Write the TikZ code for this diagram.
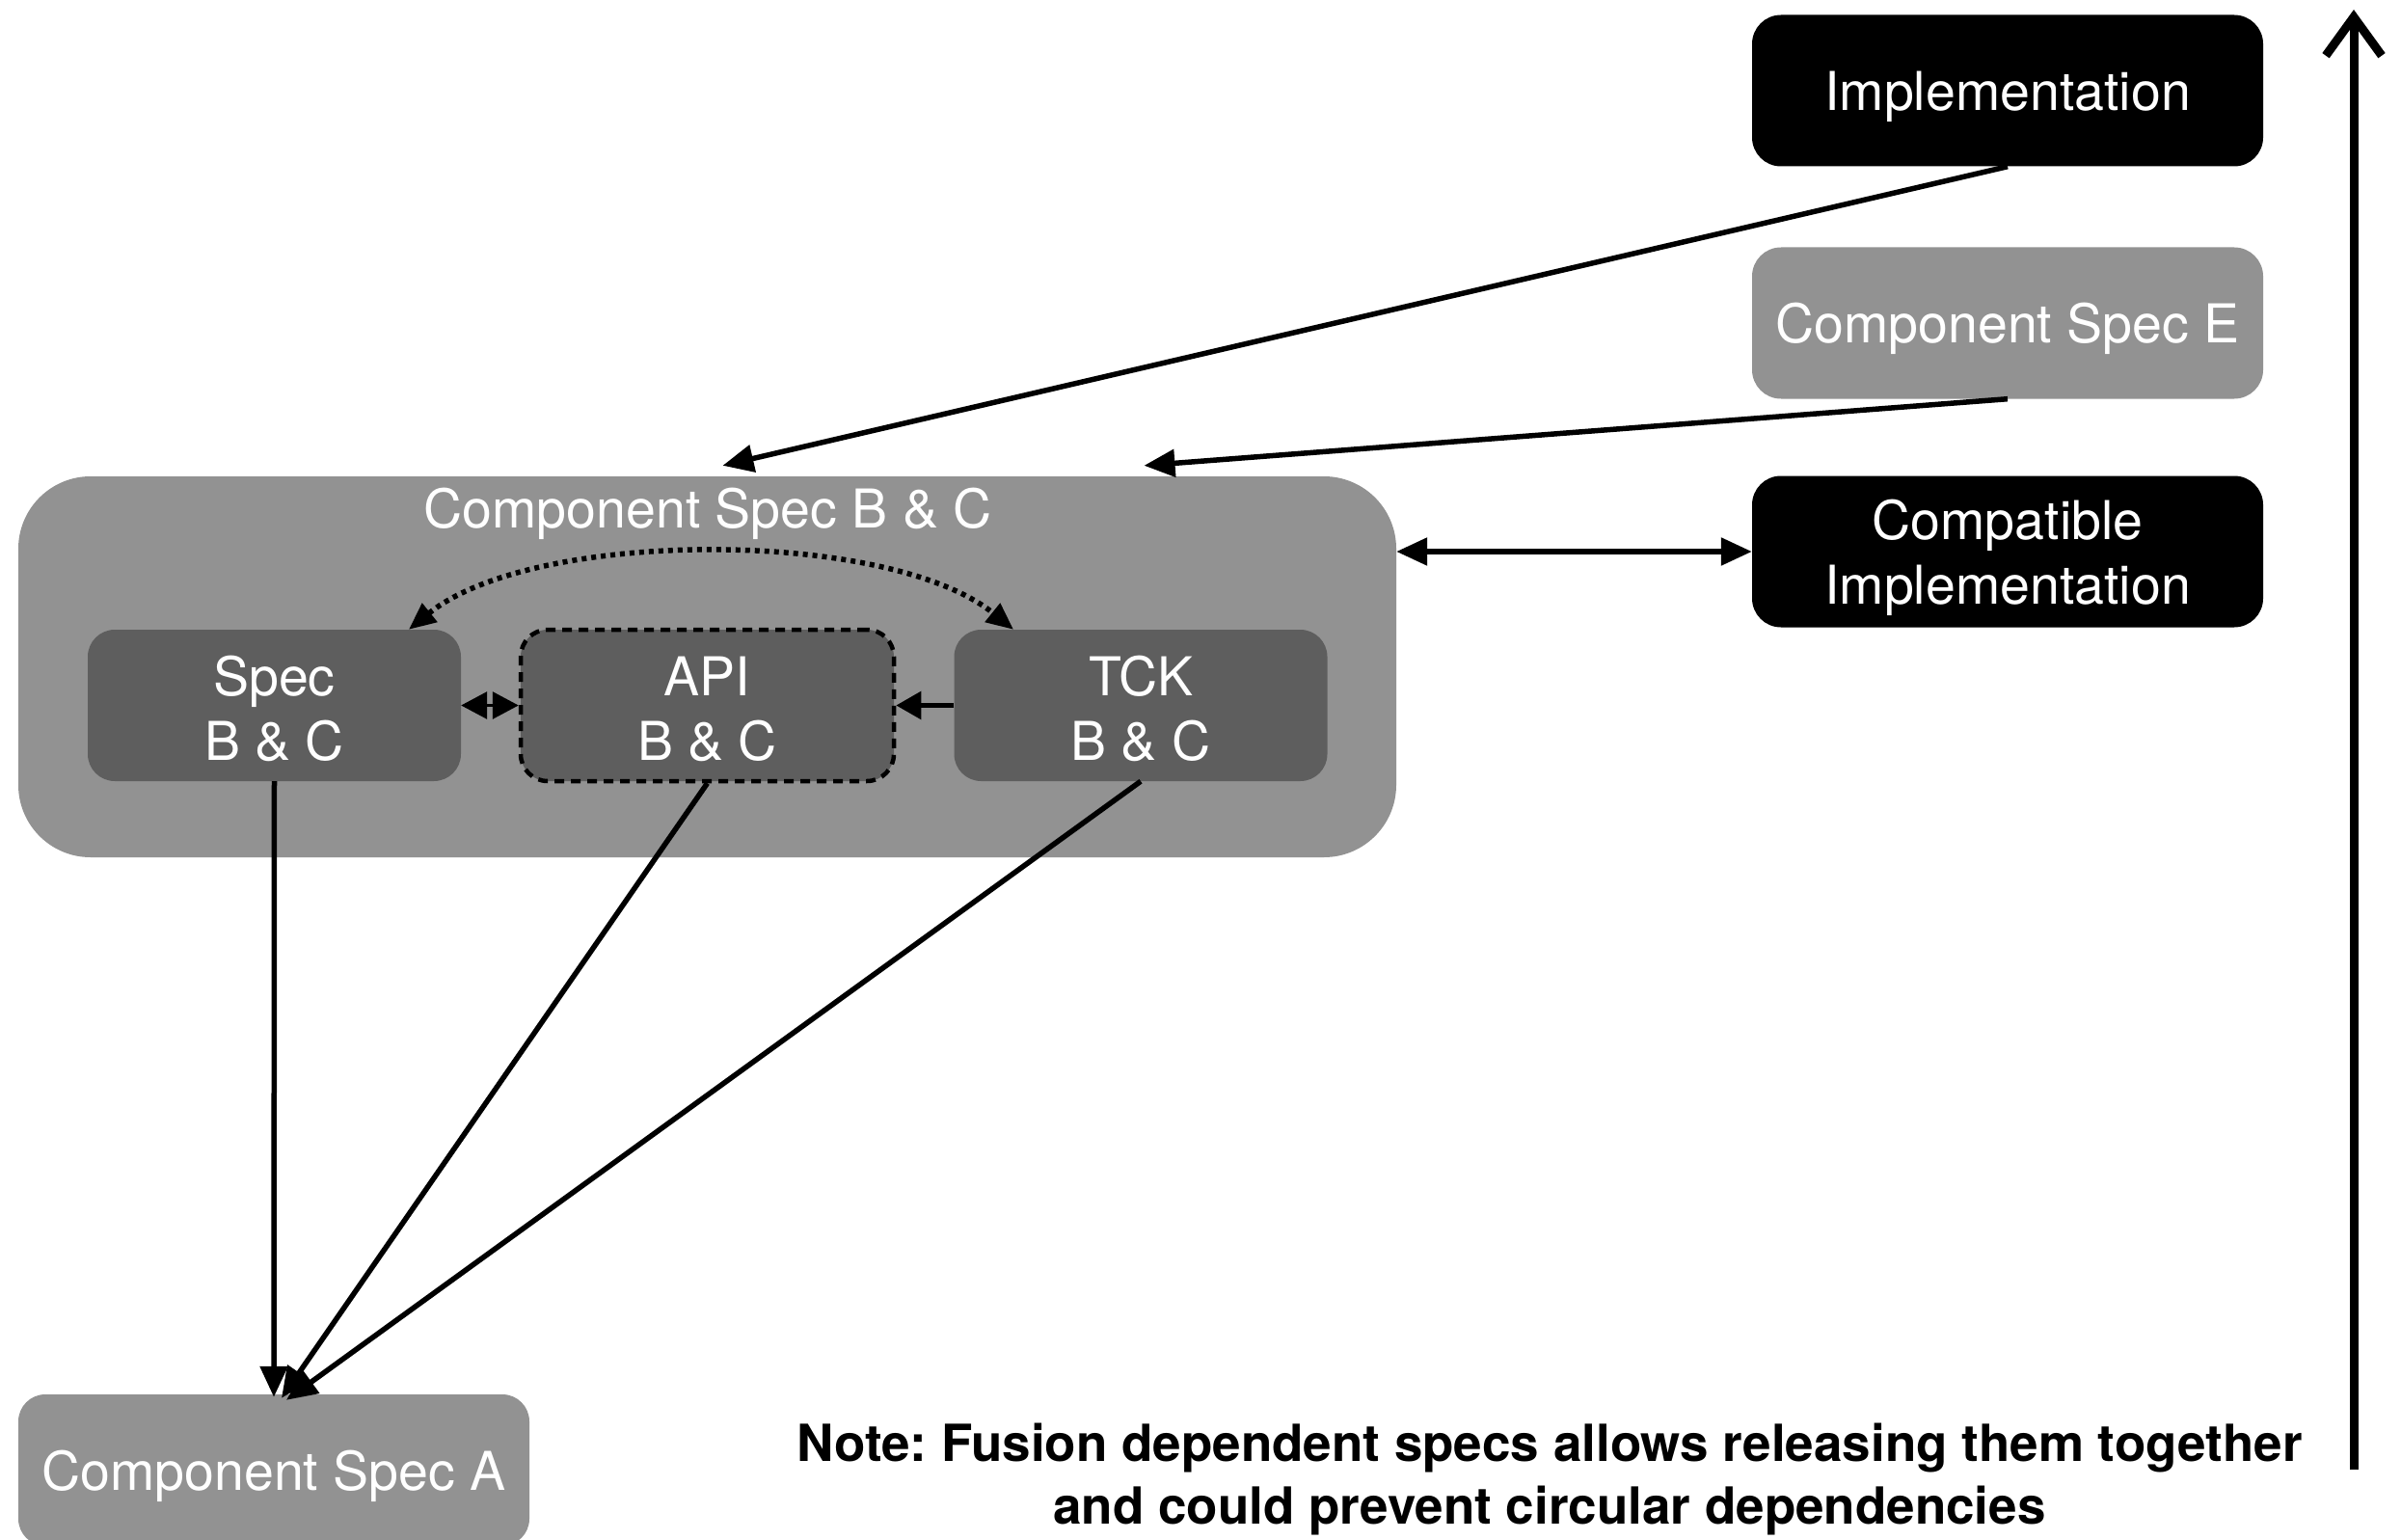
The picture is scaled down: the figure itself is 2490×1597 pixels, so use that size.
\documentclass[tikz,border=0pt]{standalone}
\usepackage{fontspec}
\setmainfont{TeX Gyre Heros}
\usetikzlibrary{arrows.meta,calc}
\definecolor{lgray}{HTML}{929292}
\definecolor{dgray}{HTML}{5E5E5E}
\newcommand\tshift{\rule{0pt}{54pt}}
\newcommand\ishift{\rule{0pt}{48pt}}
\frenchspacing
\begin{document}
\begin{tikzpicture}[x=1pt,y=-1pt,
  txt/.style={text=white,font=\fontsize{55.5}{67}\selectfont,align=center,inner sep=0pt},
  blackbox/.style={txt,fill=black,rounded corners=30pt,minimum width=530pt,minimum height=157pt},
  graybox/.style={txt,fill=lgray,rounded corners=30pt,minimum width=530pt,minimum height=157pt},
  innerbox/.style={txt,fill=dgray,rounded corners=28pt,minimum width=387pt,minimum height=157pt},
  arr/.style={line width=5.5pt,-{Triangle[length=32pt,width=28pt]}},
  notetxt/.style={font=\bfseries\fontsize{53}{65}\selectfont,align=center,inner sep=0pt}
]
\useasboundingbox (0,0) rectangle (2490,1597);

% right-hand boxes
\node[blackbox] (impl) at (2082,94) {\tshift Implementation};
\node[graybox] (specE) at (2082,335) {\tshift Component Spec E};
\node[blackbox] (compat) at (2082,572) {\tshift Compatible\\Implementation};

% big container
\node[fill=lgray,rounded corners=75pt,minimum width=1429pt,minimum height=395pt,inner sep=0pt] (bc) at (733.5,691.5) {};
\node[txt] (bclabel) at (734,527) {\tshift Component Spec B \& C};

% inner boxes
\node[innerbox] (spec) at (284.5,731.5) {\ishift Spec\\B \& C};
\node[innerbox,draw=black,line width=4.5pt,dash pattern=on 10pt off 7pt] (api) at (733.5,731.5) {\ishift API\\B \& C};
\node[innerbox] (tck) at (1183,731.5) {\ishift TCK\\B \& C};

% bottom box
\node[graybox,rounded corners=28pt] (specA) at (284,1524.5) {\tshift Component Spec A};

% note
\node[notetxt] (note) at (1607,1528) {\rule{0pt}{52pt}Note: Fusion dependent specs allows releasing them together\\and could prevent circular dependencies};

% connectors from top
\draw[arr] (impl.south) -- ([xshift=16pt,yshift=11pt]bc.north);
\draw[arr] (specE.south) -- ([xshift=453pt,yshift=11pt]bc.north);
\draw[line width=5.5pt,{Triangle[length=32pt,width=28pt]}-{Triangle[length=32pt,width=28pt]}] (bc.east |- compat.west) -- (compat.west);

% dotted curve
\draw[line width=5.5pt,dash pattern=on 5pt off 5pt,{Triangle[length=28pt,width=24pt]}-{Triangle[length=28pt,width=24pt]}]
  ([xshift=139.5pt]spec.north) .. controls +(130,-105) and +(-130,-105) .. ([xshift=-132pt]tck.north);

% between inner boxes
\draw[line width=3pt,{Triangle[length=27pt,width=28pt]}-{Triangle[length=27pt,width=28pt]}] (spec.east) -- (api.west);
\draw[line width=5.5pt,-{Triangle[length=26pt,width=28pt]}] (tck.west) -- (api.east);

% down to Component Spec A
\draw[arr] (spec.south) -- ([yshift=-3pt]specA.north);
\draw[arr] (api.south) -- ([xshift=8pt,yshift=-4pt]specA.north);
\draw[arr] (tck.south) -- ([xshift=13pt,yshift=-6pt]specA.north);

% vertical axis arrow
\coordinate (axbot) at (2441,1524);
\coordinate (axtop) at (2441,10);
\draw[line width=9pt,-{Straight Barb[length=40pt,width=58pt]}] (axbot) -- (axtop);
\end{tikzpicture}
\end{document}
